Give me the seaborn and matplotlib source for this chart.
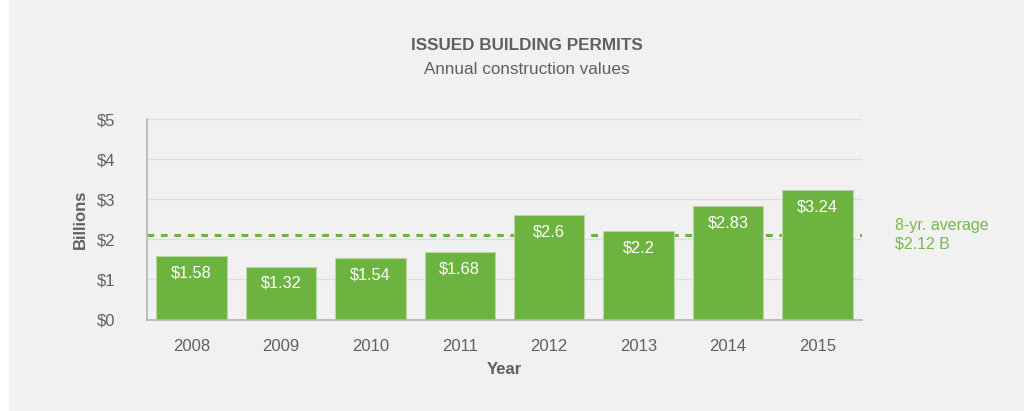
import matplotlib
matplotlib.use('Agg')
import matplotlib.pyplot as plt
from matplotlib.patches import Rectangle
import seaborn as sns
import pandas as pd

# Data
years = ['2008', '2009', '2010', '2011', '2012', '2013', '2014', '2015']
values = [1.58, 1.32, 1.54, 1.68, 2.6, 2.2, 2.83, 3.24]
value_labels = ['$1.58', '$1.32', '$1.54', '$1.68', '$2.6', '$2.2', '$2.83', '$3.24']
average = 2.12
y_ticks = [0, 1, 2, 3, 4, 5]
y_tick_labels = ['$0', '$1', '$2', '$3', '$4', '$5']

BG = '#f1f1f1'
GREEN = '#6db33f'
TEXT = '#606060'

sns.set_theme(style='white')
plt.rcParams['font.family'] = ['Liberation Sans', 'DejaVu Sans']

df = pd.DataFrame({'Year': years, 'Value': values})

fig = plt.figure(figsize=(10.24, 4.11), dpi=100, facecolor='white')
fig.patches.append(Rectangle((9 / 1024, 0), 1 - 9 / 1024, 1, transform=fig.transFigure,
                             facecolor=BG, edgecolor='none', zorder=-10))
ax = fig.add_axes([147 / 1024, 1 - 319.5 / 411, 715 / 1024, 200.2 / 411])
ax.set_facecolor(BG)

# average line drawn behind the bars
ax.axhline(average, color=GREEN, linestyle=(0, (2.2, 2.2)), linewidth=2.2, zorder=1)

sns.barplot(data=df, x='Year', y='Value', color=GREEN, saturation=1, width=0.79,
            edgecolor='#b9d6a4', linewidth=0.8, ax=ax, zorder=2)

for i, (v, lab) in enumerate(zip(values, value_labels)):
    ax.text(i, v - 0.42, lab, ha='center', va='center', color='white', fontsize=11.8, zorder=3)

ax.set_ylim(0, 5)
ax.set_xlim(-0.5, len(years) - 0.5)
ax.set_yticks(y_ticks)
ax.set_yticklabels(y_tick_labels)
ax.grid(axis='y', color='#dddddd', linewidth=0.9, zorder=0)
ax.set_axisbelow(True)
ax.tick_params(axis='y', length=0, pad=23, labelsize=12, labelcolor=TEXT)
ax.tick_params(axis='x', length=0, pad=14, labelsize=12, labelcolor=TEXT)

for side in ['top', 'right']:
    ax.spines[side].set_visible(False)
ax.spines['left'].set_color('#b5b5b5')
ax.spines['bottom'].set_color('#b5b5b5')
ax.spines['left'].set_linewidth(1.2)
ax.spines['bottom'].set_linewidth(1.2)

ax.set_xlabel('Year', fontsize=12, fontweight='bold', color=TEXT, labelpad=6)
ax.set_ylabel('Billions', fontsize=12, fontweight='bold', color=TEXT, labelpad=6)

fig.text(527 / 1024, 1 - 45 / 411, 'ISSUED BUILDING PERMITS', ha='center', va='center',
         fontsize=12.3, fontweight='bold', color=TEXT)
fig.text(527 / 1024, 1 - 69 / 411, 'Annual construction values', ha='center', va='center',
         fontsize=12.3, color=TEXT)

fig.text(895 / 1024, 1 - 225 / 411, '8-yr. average', ha='left', va='center',
         fontsize=11.5, color='#78b94a')
fig.text(895 / 1024, 1 - 244 / 411, '$%.2f B' % average, ha='left', va='center',
         fontsize=11.5, color='#78b94a')

fig.savefig('out.png', dpi=100, facecolor=fig.get_facecolor())
